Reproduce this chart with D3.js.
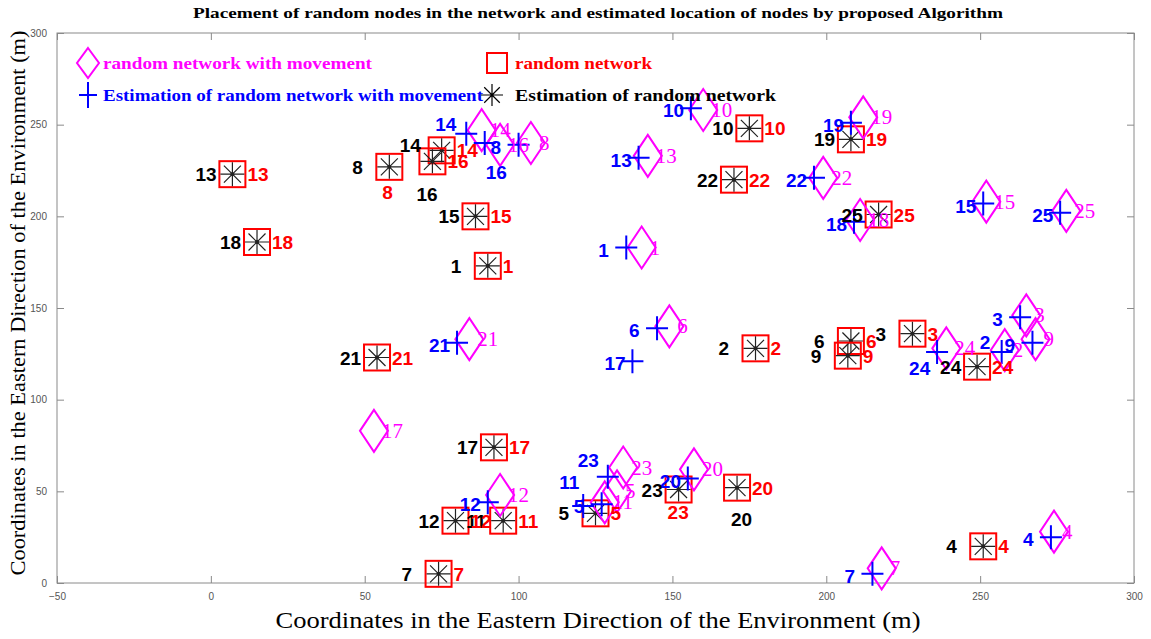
<!DOCTYPE html>
<html>
<head>
<meta charset="utf-8">
<script src="https://cdn.jsdelivr.net/npm/d3@7"></script>
<style>
  html, body { margin: 0; padding: 0; background: #fff; }
  svg { display: block; }
</style>
</head>
<body>
<svg id="chart" width="1151" height="639"></svg>
<script>
// Node identifiers
const nodeIds = [1,2,3,4,5,6,7,8,9,10,11,12,13,14,15,16,17,18,19,20,21,22,23,24,25];

// Random network: true positions (m)
const randomX = [90,177,228,251,125,208,74,58,207,175,95,79.5,7,75,86,72,92,15,208,171,54,170,152,249,217];
const randomY = [173,128,136,20,38,132,5,227,124,248,34,34,223,236,200,230,74,186,242,52,123,220,51,118,201];

// Estimated positions for the random network (m)
const estX = [90,177,228,251,125,208,74,58,207,175,95,79.5,7,75,86,72,92,15,208,171,54,170,152,249,217];
const estY = [173,128,136,20,38,132,5,227,124,248,34,34,223,236,200,230,74,186,242,52,123,220,51,118,201];

// Random network with movement: positions (m)
const moveX = [140,258,265,274,132,149,218,104,268,160,128,94,142,88,252,94,53,211,212,157,84,199,134,239,278];
const moveY = [183,127,146,28,50,140,8,240,133,258,44,48,233,247,208,239,83,198,254,62,133,221,63,128,203];

// Estimated positions for the network with movement (m)
const moveEstX = [135,257,263,273,127,145,215,100,267,156,121,90,139,83,251,89,137,209,208,155,80,196,129,236,276];
const moveEstY = [183,126,145,25,43,139,5,239,131,259,42,44,232,245,207,240,121,197,251,57,131,221,58,126,202];

// Axis ticks
const xTicks = [-50,0,50,100,150,200,250,300];
const yTicks = [0,50,100,150,200,250,300];

// Texts
const titleText = "Placement of random nodes in the network and estimated location of nodes by proposed Algorithm";
const xLabelText = "Coordinates in the Eastern Direction of the Environment (m)";
const yLabelText = "Coordinates in the Eastern Direction of the Environment (m)";
const legendItems = [
  { key: "move", text: "random network with movement" },
  { key: "random", text: "random network" },
  { key: "moveEst", text: "Estimation of random network with movement" },
  { key: "est", text: "Estimation of  random network" }
];

// ---- layout ----
const svg = d3.select("#chart");
const plot = { left: 57, right: 1134, top: 33, bottom: 583 };
const x = d3.scaleLinear().domain([-50, 300]).range([plot.left, plot.right]);
const y = d3.scaleLinear().domain([0, 300]).range([plot.bottom, plot.top]);

const colors = { move: "#ff00ff", random: "#ff0000", moveEst: "#0000ff", est: "#000000" };
const axisColor = "#8a8a8a";

// label offsets in px (start of text, baseline), with per-node exceptions
const labelOffset = {
  est:     { d: [-37, 7],  o: { 14: [-42, 2], 16: [-16, 40], 20: [-6, 38] } },
  random:  { d: [15, 7],   o: { 8: [-7, 32], 23: [-11, 29] } },
  moveEst: { d: [-28, 9],  o: { 2: [-22, -3], 14: [-31, -3], 16: [1, 36], 24: [-28, 23], 23: [-30, -10], 11: [-24, -17] } },
  move:    { d: [8, 7],    o: {} }
};
function off(kind, id) {
  const c = labelOffset[kind];
  return c.o[id] || c.d;
}

// ---- axes frame ----
const frame = svg.append("g");
frame.append("rect")
  .attr("x", plot.left).attr("y", plot.top)
  .attr("width", plot.right - plot.left).attr("height", plot.bottom - plot.top)
  .attr("fill", "#fff").attr("stroke", axisColor).attr("stroke-width", 1);

const tickLen = 7;
const xb = d3.axisBottom(x).tickValues(xTicks).tickSizeInner(-tickLen).tickSizeOuter(0).tickPadding(10);
const yl = d3.axisLeft(y).tickValues(yTicks).tickSizeInner(-tickLen).tickSizeOuter(0).tickPadding(10);
const xt = d3.axisTop(x).tickValues(xTicks).tickSizeInner(-tickLen).tickSizeOuter(0).tickFormat("");
const yr = d3.axisRight(y).tickValues(yTicks).tickSizeInner(-tickLen).tickSizeOuter(0).tickFormat("");

function styleAxis(g) {
  g.select(".domain").remove();
  g.selectAll("line").attr("stroke", axisColor);
  g.selectAll("text").attr("fill", "#555").attr("font-family", "Liberation Sans, Arial, sans-serif")
    .attr("font-size", 10);
}
frame.append("g").attr("transform", `translate(0,${plot.bottom})`).call(xb).call(styleAxis);
frame.append("g").attr("transform", `translate(${plot.left},0)`).call(yl).call(styleAxis);
frame.append("g").attr("transform", `translate(0,${plot.top})`).call(xt).call(styleAxis);
frame.append("g").attr("transform", `translate(${plot.right},0)`).call(yr).call(styleAxis);

// ---- titles ----
svg.append("text").attr("x", 598).attr("y", 18).attr("text-anchor", "middle")
  .attr("font-family", "Liberation Serif, Times New Roman, serif").attr("font-weight", "bold")
  .attr("font-size", 14).attr("textLength", 810).attr("lengthAdjust", "spacingAndGlyphs")
  .text(titleText);
svg.append("text").attr("x", 598).attr("y", 628).attr("text-anchor", "middle")
  .attr("font-family", "Liberation Serif, Times New Roman, serif")
  .attr("font-size", 24).attr("textLength", 645).attr("lengthAdjust", "spacingAndGlyphs")
  .text(xLabelText);
svg.append("text").attr("transform", "translate(25,303) rotate(-90)").attr("text-anchor", "middle")
  .attr("font-family", "Liberation Serif, Times New Roman, serif")
  .attr("font-size", 22).attr("textLength", 545).attr("lengthAdjust", "spacingAndGlyphs")
  .text(yLabelText);

// ---- marker drawers ----
function drawSquare(g, cx, cy, s, color) {
  g.append("rect").attr("x", cx - s / 2).attr("y", cy - s / 2).attr("width", s).attr("height", s)
    .attr("fill", "none").attr("stroke", color).attr("stroke-width", 2);
}
function drawAsterisk(g, cx, cy, r, color, dot) {
  const a = r * Math.SQRT1_2;
  const p = `M${cx - r},${cy}L${cx + r},${cy}M${cx},${cy - r}L${cx},${cy + r}` +
            `M${cx - a},${cy - a}L${cx + a},${cy + a}M${cx - a},${cy + a}L${cx + a},${cy - a}`;
  g.append("path").attr("d", p).attr("stroke", color).attr("stroke-width", 1.2).attr("fill", "none");
  if (dot) g.append("circle").attr("cx", cx).attr("cy", cy).attr("r", 2).attr("fill", color);
}
function drawDiamond(g, cx, cy, w, h, color) {
  const p = `M${cx},${cy - h / 2}L${cx + w / 2},${cy}L${cx},${cy + h / 2}L${cx - w / 2},${cy}Z`;
  g.append("path").attr("d", p).attr("fill", "none").attr("stroke", color).attr("stroke-width", 2);
}
function drawPlus(g, cx, cy, w, h, color) {
  const p = `M${cx - w / 2},${cy}L${cx + w / 2},${cy}M${cx},${cy - h / 2}L${cx},${cy + h / 2}`;
  g.append("path").attr("d", p).attr("fill", "none").attr("stroke", color).attr("stroke-width", 2);
}

const marks = svg.append("g");
const labels = svg.append("g");

const sansBold = "Liberation Sans, Arial, sans-serif";
const serif = "Liberation Serif, Times New Roman, serif";

function addLabel(kind, id, px, py, font, weight, size) {
  const [dx, dy] = off(kind, id);
  labels.append("text").attr("x", px + dx).attr("y", py + dy)
    .attr("fill", colors[kind]).attr("font-family", font).attr("font-weight", weight)
    .attr("font-size", size).text(id);
}

// random network (red squares) with estimates (black asterisks)
nodeIds.forEach((id, i) => {
  drawSquare(marks, x(randomX[i]), y(randomY[i]), 26, colors.random);
  drawAsterisk(marks, x(estX[i]), y(estY[i]), 12, "#222", true);
});
// network with movement (magenta diamonds) and estimates (blue pluses)
nodeIds.forEach((id, i) => {
  drawDiamond(marks, x(moveX[i]), y(moveY[i]), 28, 42, colors.move);
});
nodeIds.forEach((id, i) => {
  drawPlus(marks, x(moveEstX[i]), y(moveEstY[i]), 22, 24, colors.moveEst);
});

nodeIds.forEach((id, i) => {
  addLabel("move", id, x(moveX[i]), y(moveY[i]), serif, "normal", 21);
});
nodeIds.forEach((id, i) => {
  addLabel("est", id, x(estX[i]), y(estY[i]), sansBold, "bold", 19);
  addLabel("random", id, x(randomX[i]), y(randomY[i]), sansBold, "bold", 19);
  addLabel("moveEst", id, x(moveEstX[i]), y(moveEstY[i]), sansBold, "bold", 19);
});

// ---- legend ----
const leg = svg.append("g");
const legendPos = {
  move:    { mx: 88,  my: 63, tx: 103, ty: 69, len: 269 },
  random:  { mx: 497, my: 63, tx: 515, ty: 69, len: 137 },
  moveEst: { mx: 88,  my: 95, tx: 103, ty: 101, len: 380 },
  est:     { mx: 492, my: 95, tx: 515, ty: 101, len: 261 }
};
legendItems.forEach(item => {
  const p = legendPos[item.key];
  if (item.key === "move") drawDiamond(leg, p.mx, p.my, 22, 30, colors.move);
  if (item.key === "random") drawSquare(leg, p.mx, p.my, 20, colors.random);
  if (item.key === "moveEst") drawPlus(leg, p.mx, p.my, 18, 26, colors.moveEst);
  if (item.key === "est") drawAsterisk(leg, p.mx, p.my, 11, "#000", false);
  leg.append("text").attr("x", p.tx).attr("y", p.ty).attr("fill", colors[item.key])
    .attr("font-family", serif).attr("font-weight", "bold").attr("font-size", 17)
    .attr("textLength", p.len).attr("lengthAdjust", "spacingAndGlyphs").text(item.text);
});
</script>
</body>
</html>
